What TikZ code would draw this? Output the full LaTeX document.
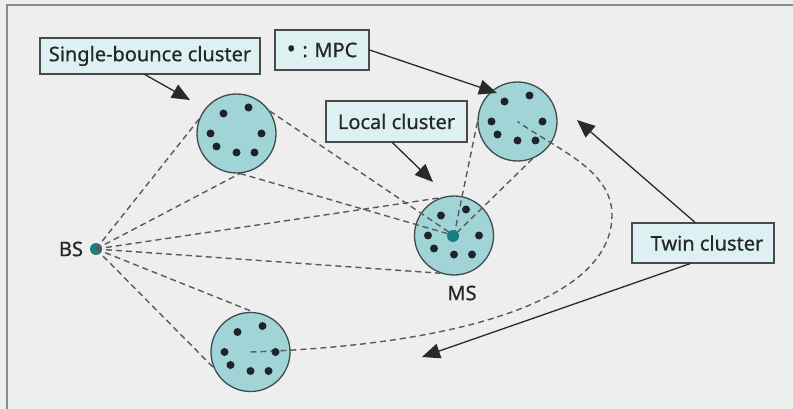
\documentclass[tikz,border=0pt]{standalone}
\usepackage{fontspec}
\setmainfont{Noto Sans}
\newfontfamily\lblfont{Noto Sans}[FakeBold=0.6]
\usetikzlibrary{arrows.meta}
\definecolor{bgcol}{HTML}{EEEEEE}
\definecolor{framecol}{HTML}{8C8C8C}
\definecolor{boxfill}{HTML}{DDF1F3}
\definecolor{boxline}{HTML}{4A4A4A}
\definecolor{clfill}{HTML}{A0D4D7}
\definecolor{clline}{HTML}{3F4A4C}
\definecolor{stationcol}{HTML}{17807F}
\definecolor{dotcol}{HTML}{1E2428}
\definecolor{raycol}{HTML}{5A5A5A}
\definecolor{arrowcol}{HTML}{2A2A2A}
\definecolor{txtcol}{HTML}{262626}
\begin{document}
\begin{tikzpicture}[x=1pt,y=-1pt,
  lbl/.style={draw=boxline, fill=boxfill, line width=1.3pt, font=\lblfont\fontsize{20}{22}\selectfont, text=txtcol, inner sep=0pt, align=center},
  plain/.style={font=\lblfont\fontsize{20}{22}\selectfont, text=txtcol, inner sep=0pt},
  cluster/.style={circle, draw=clline, fill=clfill, line width=1.3pt, minimum size=79pt, inner sep=0pt},
  mpc/.style={circle, fill=dotcol, minimum size=8pt, inner sep=0pt},
  ray/.style={draw=raycol, line width=1.4pt, dash pattern=on 6pt off 4pt},
  pointer/.style={draw=arrowcol, line width=1.3pt, -{Triangle[length=18pt,width=15pt,fill=arrowcol]}},
  station/.style={circle, fill=stationcol, minimum size=12pt, inner sep=0pt}]
\useasboundingbox (0,0) rectangle (793,409);
\fill[bgcol] (0,0) rectangle (793,409);
\draw[framecol, line width=2pt] (7,409) -- (7,5) -- (793,5);

% clusters
\node[cluster] (sb) at (236.5,133.5) {};
\node[cluster] (tw1) at (517.5,121.5) {};
\node[cluster] (lc) at (454,235.5) {};
\node[cluster] (tw2) at (250.5,352) {};

% stations
\node[station] (bs) at (96,249) {};
\node[plain] (bslbl) at (71,249) {BS};
\node[plain] (mslbl) at (462,293) {MS};

% rays
\draw[ray] (bs.center) -- (sb.159);
\draw[ray] (bs.center) -- (sb.275);
\draw[ray] (bs.center) -- (lc.110);
\draw[ray] (bs.center) -- (lc.250);
\draw[ray] (bs.center) -- (tw2.86);
\draw[ray] (bs.center) -- (tw2.203);
\draw[ray] (sb.275) -- (lc.center);
\draw[ray] (sb.34) -- (lc.center);
\draw[ray] (tw1.181) -- (lc.center);
\draw[ray] (tw1.292) -- (lc.center);
\coordinate (turn) at (612,215);
\draw[ray] (tw2.center) .. controls (460,345) and (612,300) .. (turn)
           .. controls (612,170) and (558,150) .. (tw1.center);

% MPC dots
\foreach \c in {sb,tw1,lc,tw2}{
  \foreach \dx/\dy [count=\i] in {-13/-20,12/-26,-26/0,25/0,-20/13,0/19,18/19}{
    \node[mpc] (\c-\i) at ([shift={(\dx,\dy)}]\c.center) {};
  }
}
\node[station] (ms) at (453,236) {};

% label boxes
\node[lbl, minimum width=220pt, minimum height=36pt] (sbl) at (150,56) {Single-bounce cluster};
\node[lbl, minimum width=94pt, minimum height=40pt] (mpcl) at (322,50) {{\fontsize{24}{22}\selectfont\textbullet}\,\,:\,\,MPC};
\node[lbl, minimum width=141pt, minimum height=41pt] (lcl) at (396.5,121.5) {Local cluster};
\node[lbl, minimum width=142pt, minimum height=40pt] (twl) at (703,243) {\hspace{8pt}Twin cluster};

% pointers
\coordinate (sbtip) at (190,100);
\coordinate (mpctip) at (497,93);
\coordinate (lctip) at (433,182);
\coordinate (twtipa) at (577,120);
\coordinate (twtipb) at (422,357);
\draw[pointer] ([xshift=-5pt]sbl.south) -- (sbtip);
\draw[pointer] (mpcl.east) -- (mpctip);
\draw[pointer] ([xshift=-4pt]lcl.south) -- (lctip);
\draw[pointer] ([xshift=-8pt]twl.north) -- (twtipa);
\draw[pointer] ([xshift=-13pt]twl.south) -- (twtipb);
\end{tikzpicture}
\end{document}
